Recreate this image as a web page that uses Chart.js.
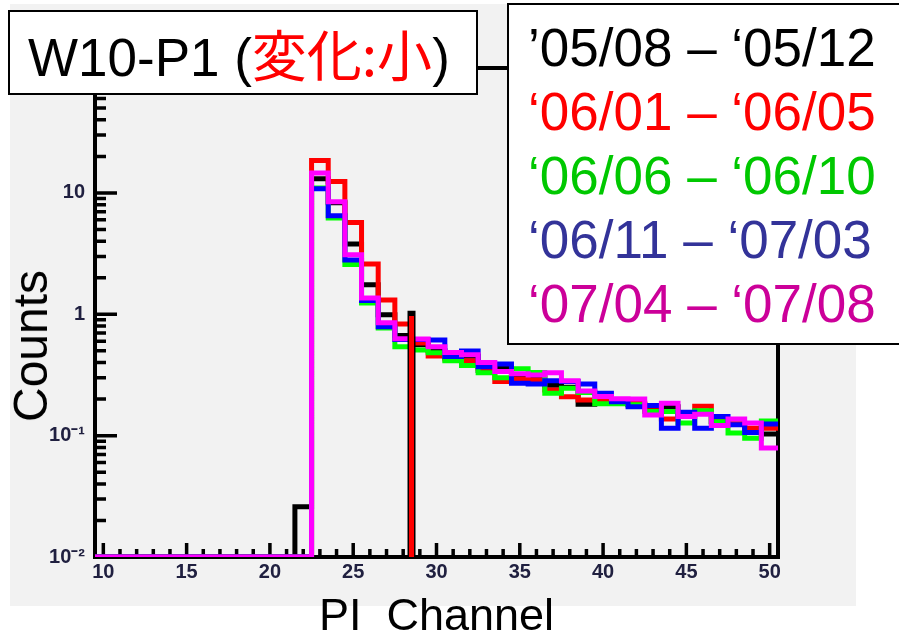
<!DOCTYPE html>
<html>
<head>
<meta charset="utf-8">
<script src="https://cdn.jsdelivr.net/npm/chart.js@4/dist/chart.umd.min.js"></script>
<style>
body { margin: 0; background: #fff; overflow: hidden; }
#wrap { position: relative; width: 899px; height: 638px; overflow: hidden; font-family: "Liberation Sans", Arial, sans-serif; }
#pad { position: absolute; left: 10px; top: 4px; width: 846px; height: 602px; background: #f2f2f2; }
#c { position: absolute; left: 0; top: 0; }
#title { position: absolute; left: 8px; top: 10px; width: 470px; height: 85px; box-sizing: border-box;
  border: 2px solid #000; background: #fff; padding-left: 18px; font-size: 53px; line-height: 81px; white-space: nowrap; }
#title .jp { color: #ff0000; font-family: "Noto Sans CJK JP", sans-serif; font-size: 55px; }
#legend { position: absolute; left: 507px; top: 3px; width: 420px; height: 342px; box-sizing: border-box;
  border: 2px solid #000; background: #fff; padding: 11px 0 0 19px; font-size: 53px; line-height: 64px; white-space: nowrap; }
#ytitle { position: absolute; left: 31px; top: 346px; transform: translate(-50%, -50%) rotate(-90deg);
  font-size: 48px; line-height: 48px; white-space: nowrap; color: #000; }
</style>
</head>
<body>
<div id="wrap">
  <div id="pad"></div>
  <canvas id="c" width="899" height="638"></canvas>
  <div id="ytitle">Counts</div>
  <div id="title">W10-P1 (<span class="jp">変化:小</span>)</div>
  <div id="legend"></div>
</div>
<script>
// PI channel of each bin (bin width 1)
const channels = [10,11,12,13,14,15,16,17,18,19,20,21,22,23,24,25,26,27,28,29,30,
                  31,32,33,34,35,36,37,38,39,40,41,42,43,44,45,46,47,48,49,50];

// counts per bin, channels 10..50 (0 = empty bin, drawn on the axis floor)
const counts0508 = [0,0,0,0,0,0,0,0,0,0,0,0,0.026,13.1,8.3,3.8,1.75,0.99,0.67,0.56,0.50,
                    0.44,0.45,0.344,0.36,0.31,0.30,0.26,0.25,0.181,0.19,0.19,0.18,0.165,0.173,0.15,0.155,0.13,0.125,0.113,0.103];
const counts0601 = [0,0,0,0,0,0,0,0,0,0,0,0,0,18.5,12.4,5.7,2.6,1.31,0.83,0.581,0.454,
                    0.429,0.415,0.36,0.279,0.293,0.288,0.238,0.209,0.197,0.195,0.19,0.185,0.16,0.137,0.15,0.175,0.13,0.125,0.115,0.115];
const counts0606 = [0,0,0,0,0,0,0,0,0,0,0,0,0,11.0,6.2,2.57,1.24,0.77,0.54,0.509,0.481,
                    0.415,0.378,0.33,0.30,0.355,0.331,0.224,0.246,0.227,0.183,0.183,0.18,0.158,0.158,0.127,0.160,0.130,0.105,0.095,0.132];
const counts0611 = [0,0,0,0,0,0,0,0,0,0,0,0,0,10.8,6.5,2.8,1.3,0.79,0.62,0.62,0.615,
                    0.448,0.499,0.369,0.390,0.270,0.267,0.283,0.28,0.267,0.224,0.19,0.173,0.177,0.115,0.156,0.115,0.144,0.123,0.106,0.125];
const counts0704 = [0,0,0,0,0,0,0,0,0,0,0,0,0,14.6,8.45,3.09,1.36,0.85,0.63,0.627,0.539,
                    0.484,0.463,0.400,0.337,0.323,0.316,0.330,0.283,0.233,0.21,0.201,0.200,0.148,0.185,0.144,0.150,0.121,0.137,0.127,0.079];

// single tall line at the 28/29 bin edge
const spikeEdge = 28.5;
const spike0508 = [0, 1.07];
const spike0601 = [0, 0.97];

const periodLabels = ['\u201905/08 \u2013 \u201805/12', '\u201806/01 \u2013 \u201806/05', '\u201806/06 \u2013 \u201806/10',
                      '\u201806/11 \u2013 \u201807/03', '\u201807/04 \u2013 \u201807/08'];
const lineColors = ['#000000', '#ff0000', '#00ff00', '#0000ff', '#ff00ff'];
const textColors = ['#000000', '#ff0000', '#00c800', '#333399', '#cc0099'];

const xMajorTicks = [10, 15, 20, 25, 30, 35, 40, 45, 50];
const yMajorTicks = [0.01, 0.1, 1, 10];
const yTickLabels = ['10\u207B\u00B2', '10\u207B\u00B9', '1', '10'];
const yMinorSteps = [2, 3, 4, 5, 6, 7, 8, 9];
const yFloor = 0.01, yCeil = 107;

// points on the left edge of each bin, plus the right edge of the last one
function steps(counts) {
  const pts = channels.map((ch, i) => ({ x: ch - 0.5, y: Math.max(counts[i], yFloor) }));
  pts.push({ x: channels[channels.length - 1] + 0.5, y: Math.max(counts[counts.length - 1], yFloor) });
  return pts;
}

const allCounts = [counts0508, counts0601, counts0606, counts0611, counts0704];
const datasets = allCounts.map((c, i) => ({
  label: periodLabels[i],
  data: steps(c),
  borderColor: lineColors[i],
  borderWidth: 5,
  stepped: 'before',
  order: 5 - i
}));
datasets.push({
  data: spike0508.map(v => ({ x: spikeEdge, y: Math.max(v, yFloor) })),
  borderColor: lineColors[0], borderWidth: 8, order: 0
});
datasets.push({
  data: spike0601.map(v => ({ x: spikeEdge, y: Math.max(v, yFloor) })),
  borderColor: lineColors[1], borderWidth: 5, order: -1
});

// legend text, one coloured line per period
let html = '';
periodLabels.forEach((t, i) => {
  html += `<div style="color:${textColors[i]}">${t}</div>`;
});
document.getElementById('legend').innerHTML = html;

// ROOT style frame with ticks pointing inwards
const rootAxes = {
  id: 'rootAxes',
  beforeDatasetsDraw(chart) {
    const { ctx, chartArea: a, scales } = chart;
    const x = scales.x, y = scales.y;
    ctx.save();
    ctx.strokeStyle = '#000';
    ctx.lineWidth = 4;
    ctx.strokeRect(a.left, a.top, a.right - a.left, a.bottom - a.top);
    ctx.beginPath();
    channels.forEach(ch => {
      const px = x.getPixelForValue(ch);
      const len = xMajorTicks.includes(ch) ? 14 : 8;
      ctx.moveTo(px, a.bottom);
      ctx.lineTo(px, a.bottom - len);
    });
    yMajorTicks.forEach(d => {
      let py = y.getPixelForValue(d);
      ctx.moveTo(a.left, py);
      ctx.lineTo(a.left + 22, py);
      yMinorSteps.forEach(k => {
        if (k * d > yCeil) return;
        py = y.getPixelForValue(k * d);
        ctx.moveTo(a.left, py);
        ctx.lineTo(a.left + 11, py);
      });
    });
    ctx.lineWidth = 3.5;
    ctx.stroke();
    ctx.restore();
  }
};

const tickFont = { family: 'Liberation Sans', size: 20, weight: 'bold' };

new Chart(document.getElementById('c'), {
  type: 'line',
  data: { datasets: datasets },
  options: {
    responsive: false,
    animation: false,
    devicePixelRatio: 1,
    layout: { padding: { top: 68, right: 121, bottom: 0, left: 0 } },
    plugins: { legend: { display: false }, tooltip: { enabled: false } },
    elements: {
      point: { radius: 0 },
      line: { borderJoinStyle: 'miter', borderCapStyle: 'butt', tension: 0 }
    },
    scales: {
      x: {
        type: 'linear', min: 9.5, max: 50.5, bounds: 'data',
        grid: { display: false, drawTicks: false },
        border: { display: false },
        afterFit: s => { s.height = 81; },
        afterBuildTicks: s => { s.ticks = xMajorTicks.map(v => ({ value: v })); },
        ticks: { autoSkip: false, maxRotation: 0, padding: 3, color: '#202040', font: tickFont,
                 callback: v => String(v) },
        title: { display: true, text: 'PI  Channel', color: '#000', padding: 0,
                 font: { family: 'Liberation Sans', size: 45, lineHeight: 0.92 } }
      },
      y: {
        type: 'logarithmic', min: yFloor, max: yCeil, bounds: 'data',
        grid: { display: false, drawTicks: false },
        border: { display: false },
        afterFit: s => { s.width = 95; },
        afterBuildTicks: s => { s.ticks = yMajorTicks.map(v => ({ value: v })); },
        ticks: { autoSkip: false, padding: 10, color: '#202040', font: tickFont,
                 callback: (v, i) => yTickLabels[i] }
      }
    }
  },
  plugins: [rootAxes]
});
</script>
</body>
</html>
